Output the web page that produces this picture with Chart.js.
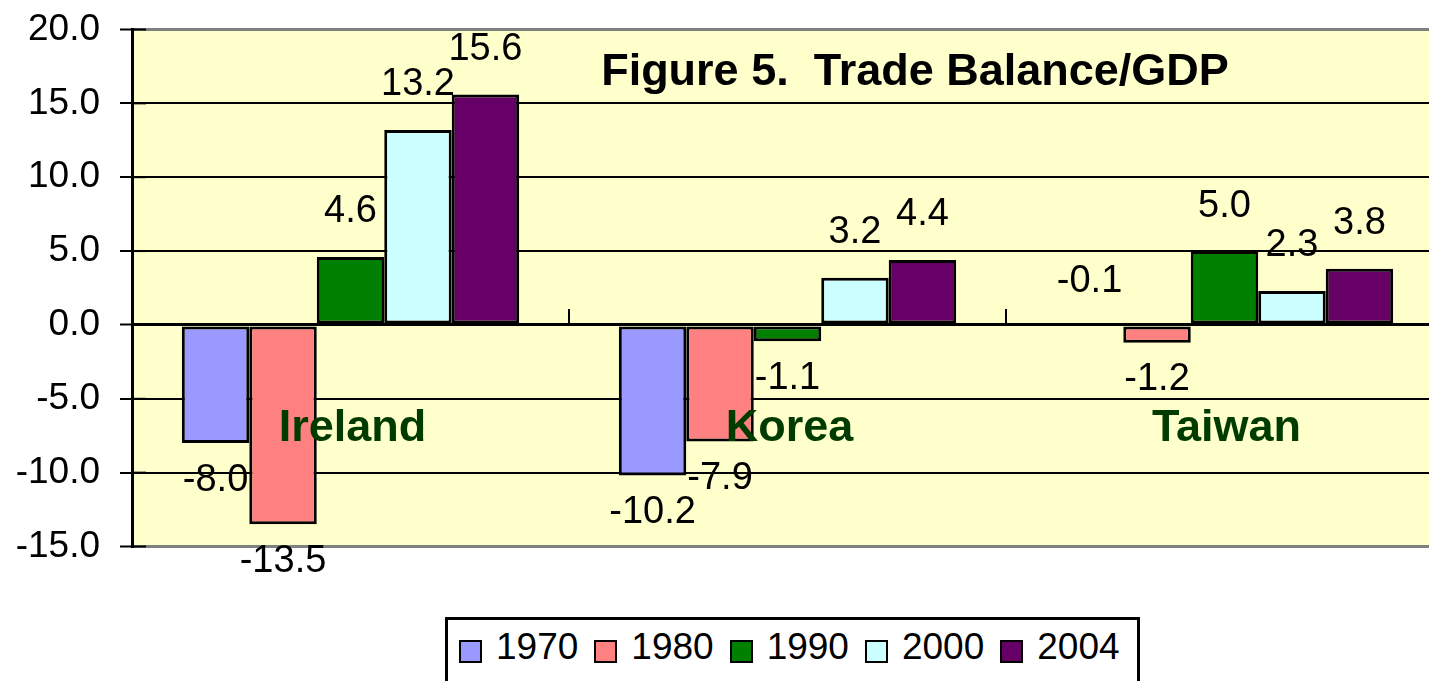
<!DOCTYPE html>
<html>
<head>
<meta charset="utf-8">
<script src="https://cdn.jsdelivr.net/npm/chart.js"></script>
<style>
  body { margin: 0; background: #fff; overflow: hidden; width: 1429px; height: 681px; position: relative; }
  #wrap { position: absolute; left: 0; top: 0; width: 1446px; height: 600px; }
  #legend {
    position: absolute; left: 445px; top: 617px; width: 695px; height: 90px;
    border: 3px solid #000; box-sizing: border-box; background: #fff;
    display: flex; align-items: flex-start; padding: 0 0 0 11px;
    font-family: 'Liberation Sans', Arial, sans-serif; font-size: 37px; color: #000;
  }
  .item { display: flex; align-items: center; margin-right: 16px; height: 44px; margin-top: 5px; }
  .sw { width: 23px; height: 23px; box-sizing: border-box; border: 2px solid #000; margin-right: 14px; margin-top: 8px; }
</style>
</head>
<body>
<div id="wrap"><canvas id="myChart" width="1446" height="600"></canvas></div>
<div id="legend"></div>
<script>
const countries = ['Ireland', 'Korea', 'Taiwan']
const years = ['1970', '1980', '1990', '2000', '2004']
const v1970 = [-8.0, -10.2, -0.1]
const v1980 = [-13.5, -7.9, -1.2]
const v1990 = [4.6, -1.1, 5.0]
const v2000 = [13.2, 3.2, 2.3]
const v2004 = [15.6, 4.4, 3.8]
const yTicks = [20, 15, 10, 5, 0, -5, -10, -15]
const colors = ['#9999FF', '#FF8080', '#008000', '#CCFFFF', '#660066']
const titleText = 'Figure 5.  Trade Balance/GDP'

const series = [v1970, v1980, v1990, v2000, v2004]
const font = "'Liberation Sans', Arial, sans-serif"

// yellow plot background
const plotBg = {
  id: 'plotBg',
  beforeDraw(chart) {
    const { ctx, chartArea: a } = chart
    ctx.save()
    ctx.fillStyle = '#FFFFCC'
    ctx.fillRect(a.left, a.top, a.right - a.left, a.bottom - a.top)
    ctx.restore()
  }
}

const extras = {
  id: 'extras',
  afterDatasetsDraw(chart) {
    const { ctx, chartArea: a } = chart
    const x = chart.scales.x, y = chart.scales.y
    const y0 = y.getPixelForValue(0)
    ctx.save()

    // inner half of the crossing y ticks
    ctx.strokeStyle = '#000'
    ctx.lineWidth = 2
    yTicks.forEach(t => {
      const py = y.getPixelForValue(t)
      ctx.beginPath(); ctx.moveTo(a.left, py); ctx.lineTo(a.left + 14, py); ctx.stroke()
    })

    // category boundary ticks on the zero line
    for (let i = 0; i < countries.length - 1; i++) {
      const bx = (x.getPixelForValue(i) + x.getPixelForValue(i + 1)) / 2
      ctx.beginPath(); ctx.moveTo(bx, y0); ctx.lineTo(bx, y0 - 16); ctx.stroke()
    }

    // title
    ctx.fillStyle = '#000'
    ctx.font = 'bold 45px ' + font
    ctx.textAlign = 'center'
    ctx.textBaseline = 'middle'
    ctx.fillText(titleText, 915, 73)

    // category names
    ctx.fillStyle = '#003C00'
    ctx.font = 'bold 45px ' + font
    countries.forEach((c, i) => ctx.fillText(c, x.getPixelForValue(i) + 2, y.getPixelForValue(-7)))

    // value labels
    ctx.fillStyle = '#000'
    ctx.font = '38px ' + font
    chart.data.datasets.forEach((ds, i) => {
      chart.getDatasetMeta(i).data.forEach((bar, j) => {
        const v = ds.data[j]
        const up = v > -0.5
        const py = up ? Math.min(bar.y, bar.base) - 45 : Math.max(bar.y, bar.base) + 37
        ctx.fillText(v.toFixed(1), bar.x, py)
      })
    })
    ctx.restore()
  }
}

const ctx = document.getElementById('myChart')

const myChart = new Chart(ctx, {
  type: 'bar',
  data: {
    labels: countries,
    datasets: years.map((yr, i) => ({
      label: yr,
      data: series[i],
      backgroundColor: colors[i],
      borderColor: '#000',
      borderWidth: 3,
      borderSkipped: false,
      categoryPercentage: 0.772,
      barPercentage: 1
    }))
  },
  options: {
    responsive: false,
    animation: false,
    devicePixelRatio: 1,
    layout: { padding: { left: 0, top: 29.5, right: 3, bottom: 53.5 } },
    plugins: { legend: { display: false }, tooltip: { enabled: false } },
    scales: {
      x: { display: false },
      y: {
        min: -15,
        max: 20,
        afterFit: s => { s.width = 132 },
        afterBuildTicks: s => { s.ticks = yTicks.map(v => ({ value: v })) },
        ticks: {
          padding: 20,
          color: '#000',
          font: { family: font, size: 37, lineHeight: 0.2 },
          callback: v => Number(v).toFixed(1)
        },
        grid: {
          color: c => (c.tick.value === 20 || c.tick.value === -15) ? '#808080' : '#000',
          lineWidth: c => (c.tick.value === 20 || c.tick.value === -15 || c.tick.value === 0) ? 3 : 2,
          tickLength: 12,
          tickColor: '#000',
          tickWidth: 2
        },
        border: { display: true, color: '#000', width: 3 }
      }
    }
  },
  plugins: [plotBg, extras]
})

// legend
const legend = document.getElementById('legend')
years.forEach((yr, i) => {
  const it = document.createElement('div')
  it.className = 'item'
  it.innerHTML = `<div class="sw" style="background:${colors[i]}"></div><span>${yr}</span>`
  legend.appendChild(it)
})
</script>
</body>
</html>
